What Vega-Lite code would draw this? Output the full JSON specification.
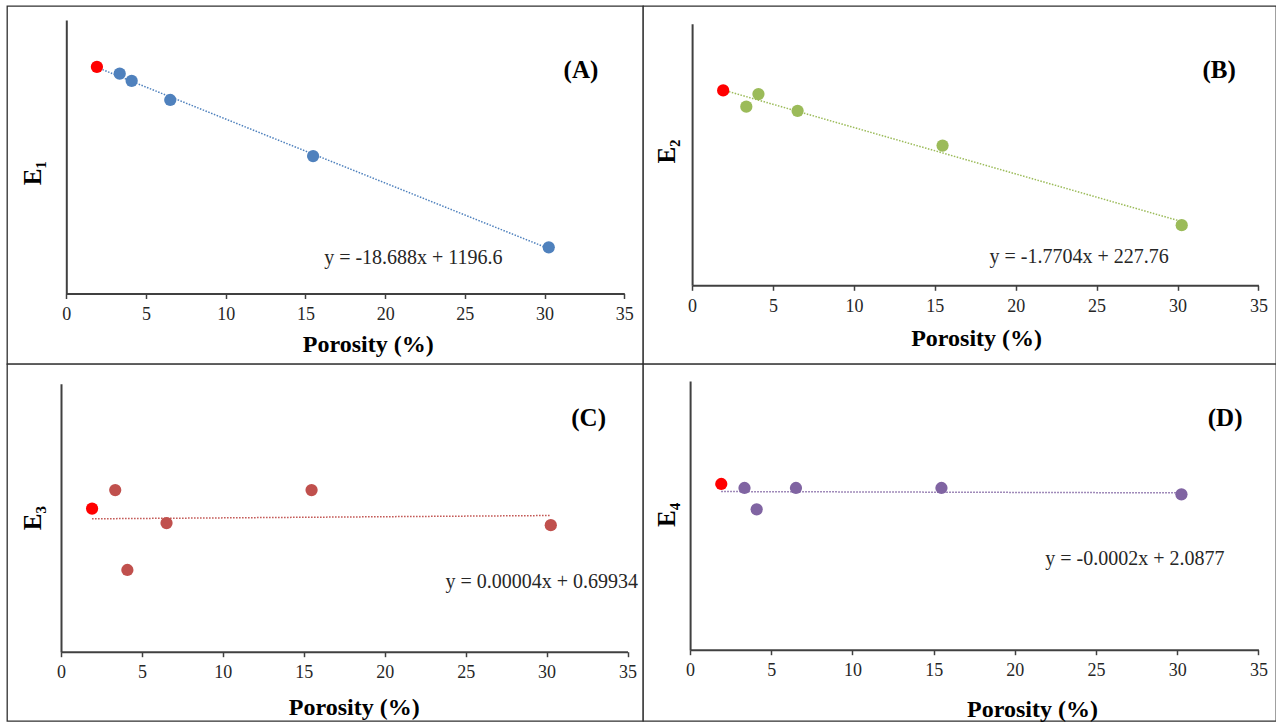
{
  "$schema": "https://vega.github.io/schema/vega-lite/v6.json",
  "background": "white",
  "padding": {"left": 6, "top": 5, "right": 0, "bottom": 1},
  "data": {"values": [
    {"porosity": 1.92, "type": "ref", "E1": 1163, "E2": 224.5, "E3": 0.7034, "E4": 2.1167},
    {"porosity": 3.35, "type": "sample", "E1": 1143, "E2": 218.3, "E3": 0.7103, "E4": 2.1018},
    {"porosity": 4.1, "type": "sample", "E1": 1122, "E2": 223.1, "E3": 0.6805, "E4": 2.0225},
    {"porosity": 6.52, "type": "sample", "E1": 1066, "E2": 216.7, "E3": 0.698, "E4": 2.1018},
    {"porosity": 15.48, "type": "sample", "E1": 902, "E2": 203.4, "E3": 0.7103, "E4": 2.1018},
    {"porosity": 30.26, "type": "sample", "E1": 635, "E2": 173, "E3": 0.6972, "E4": 2.0783}
  ]},
  "columns": 2,
  "spacing": 0,
  "bounds": "flush",
  "concat": [
    {
      "width": 636, "height": 358,
      "layer": [
        {
          "transform": [{"regression": "E1", "on": "porosity"}],
          "mark": {"type": "line", "color": "#4F81BD", "strokeWidth": 1.5, "strokeDash": [1.5, 1.5]},
          "encoding": {
            "x": {"field": "porosity", "type": "quantitative", "scale": {"domain": [0, 35], "range": [59.3, 617.3], "nice": false, "zero": false},
              "axis": {"title": "Porosity (%)", "values": [0, 5, 10, 15, 20, 25, 30, 35], "offset": -70.5, "titleX": 360.7, "titleY": 57.5}},
            "y": {"field": "E1", "type": "quantitative", "scale": {"domain": [500, 1300], "range": [287.5, 14], "nice": false, "zero": false},
              "axis": {"title": "E₁", "offset": -59.3, "titleX": -33.5, "titleY": 166.7}}
          }
        },
        {
          "mark": {"type": "circle", "size": 150, "opacity": 1},
          "encoding": {
            "x": {"field": "porosity", "type": "quantitative"},
            "y": {"field": "E1", "type": "quantitative"},
            "color": {"condition": {"test": "datum.type === 'ref'", "value": "#FF0000"}, "value": "#4F81BD"}
          }
        },
        {
          "data": {"values": [{"label": "y = -18.688x + 1196.6"}]},
          "mark": {"type": "text", "fontSize": 20, "align": "center", "baseline": "alphabetic", "color": "#262626", "font": "Liberation Serif"},
          "encoding": {"x": {"datum": 21.77}, "y": {"datum": 585}, "text": {"field": "label"}}
        },
        {
          "data": {"values": [{"label": "(A)"}]},
          "mark": {"type": "text", "fontSize": 25, "fontWeight": "bold", "align": "center", "baseline": "alphabetic", "color": "#000000", "font": "Liberation Serif"},
          "encoding": {"x": {"datum": 32.28}, "y": {"datum": 1130}, "text": {"field": "label"}}
        }
      ]
    },
    {
      "width": 633, "height": 358,
      "layer": [
        {
          "transform": [{"regression": "E2", "on": "porosity"}],
          "mark": {"type": "line", "color": "#9BBB59", "strokeWidth": 1.5, "strokeDash": [1.5, 1.5]},
          "encoding": {
            "x": {"field": "porosity", "type": "quantitative", "scale": {"domain": [0, 35], "range": [49.1, 615.4], "nice": false, "zero": false},
              "axis": {"title": "Porosity (%)", "values": [0, 5, 10, 15, 20, 25, 30, 35], "offset": -78.7, "titleX": 333.1, "titleY": 59.7}},
            "y": {"field": "E2", "type": "quantitative", "scale": {"domain": [150, 250], "range": [279.3, 17.7], "nice": false, "zero": false},
              "axis": {"title": "E₂", "offset": -49.1, "titleX": -25.9, "titleY": 145}}
          }
        },
        {
          "mark": {"type": "circle", "size": 150, "opacity": 1},
          "encoding": {
            "x": {"field": "porosity", "type": "quantitative"},
            "y": {"field": "E2", "type": "quantitative"},
            "color": {"condition": {"test": "datum.type === 'ref'", "value": "#FF0000"}, "value": "#9BBB59"}
          }
        },
        {
          "data": {"values": [{"label": "y = -1.7704x + 227.76"}]},
          "mark": {"type": "text", "fontSize": 20, "align": "center", "baseline": "alphabetic", "color": "#262626", "font": "Liberation Serif"},
          "encoding": {"x": {"datum": 23.92}, "y": {"datum": 158.6}, "text": {"field": "label"}}
        },
        {
          "data": {"values": [{"label": "(B)"}]},
          "mark": {"type": "text", "fontSize": 25, "fontWeight": "bold", "align": "center", "baseline": "alphabetic", "color": "#000000", "font": "Liberation Serif"},
          "encoding": {"x": {"datum": 32.57}, "y": {"datum": 229.1}, "text": {"field": "label"}}
        }
      ]
    },
    {
      "width": 636, "height": 357,
      "layer": [
        {
          "transform": [{"regression": "E3", "on": "porosity"}],
          "mark": {"type": "line", "color": "#C0504D", "strokeWidth": 1.5, "strokeDash": [1.5, 1.5]},
          "encoding": {
            "x": {"field": "porosity", "type": "quantitative", "scale": {"domain": [0, 35], "range": [54, 620.5], "nice": false, "zero": false},
              "axis": {"title": "Porosity (%)", "values": [0, 5, 10, 15, 20, 25, 30, 35], "offset": -69.3, "titleX": 346.7, "titleY": 62.6}},
            "y": {"field": "E3", "type": "quantitative", "scale": {"domain": [0.65, 0.75], "range": [287.7, 19.7], "nice": false, "zero": false},
              "axis": {"title": "E₃", "offset": -54, "titleX": -28.2, "titleY": 153.7}}
          }
        },
        {
          "mark": {"type": "circle", "size": 150, "opacity": 1},
          "encoding": {
            "x": {"field": "porosity", "type": "quantitative"},
            "y": {"field": "E3", "type": "quantitative"},
            "color": {"condition": {"test": "datum.type === 'ref'", "value": "#FF0000"}, "value": "#C0504D"}
          }
        },
        {
          "data": {"values": [{"label": "y = 0.00004x + 0.69934"}]},
          "mark": {"type": "text", "fontSize": 20, "align": "center", "baseline": "alphabetic", "color": "#262626", "font": "Liberation Serif"},
          "encoding": {"x": {"datum": 29.7}, "y": {"datum": 0.67388}, "text": {"field": "label"}}
        },
        {
          "data": {"values": [{"label": "(C)"}]},
          "mark": {"type": "text", "fontSize": 25, "fontWeight": "bold", "align": "center", "baseline": "alphabetic", "color": "#000000", "font": "Liberation Serif"},
          "encoding": {"x": {"datum": 32.6}, "y": {"datum": 0.73422}, "text": {"field": "label"}}
        }
      ]
    },
    {
      "width": 633, "height": 357,
      "layer": [
        {
          "transform": [{"regression": "E4", "on": "porosity"}],
          "mark": {"type": "line", "color": "#8064A2", "strokeWidth": 1.5, "strokeDash": [1.5, 1.5]},
          "encoding": {
            "x": {"field": "porosity", "type": "quantitative", "scale": {"domain": [0, 35], "range": [47.1, 615.4], "nice": false, "zero": false},
              "axis": {"title": "Porosity (%)", "values": [0, 5, 10, 15, 20, 25, 30, 35], "offset": -71.3, "titleX": 389, "titleY": 66.3}},
            "y": {"field": "E4", "type": "quantitative", "scale": {"domain": [1.5, 2.5], "range": [285.7, 17], "nice": false, "zero": false},
              "axis": {"title": "E₄", "offset": -47.1, "titleX": -23.9, "titleY": 150.3}}
          }
        },
        {
          "mark": {"type": "circle", "size": 150, "opacity": 1},
          "encoding": {
            "x": {"field": "porosity", "type": "quantitative"},
            "y": {"field": "E4", "type": "quantitative"},
            "color": {"condition": {"test": "datum.type === 'ref'", "value": "#FF0000"}, "value": "#8064A2"}
          }
        },
        {
          "data": {"values": [{"label": "y = -0.0002x + 2.0877"}]},
          "mark": {"type": "text", "fontSize": 20, "align": "center", "baseline": "alphabetic", "color": "#262626", "font": "Liberation Serif"},
          "encoding": {"x": {"datum": 27.39}, "y": {"datum": 1.8152}, "text": {"field": "label"}}
        },
        {
          "data": {"values": [{"label": "(D)"}]},
          "mark": {"type": "text", "fontSize": 25, "fontWeight": "bold", "align": "center", "baseline": "alphabetic", "color": "#000000", "font": "Liberation Serif"},
          "encoding": {"x": {"datum": 32.95}, "y": {"datum": 2.3325}, "text": {"field": "label"}}
        }
      ]
    }
  ],
  "config": {
    "view": {"stroke": "#303030", "strokeWidth": 1.3, "fill": "white"},
    "font": "Liberation Serif",
    "axis": {"grid": false, "domainColor": "#404040", "domainWidth": 2, "tickColor": "#404040", "tickWidth": 1.5, "tickSize": 5,
      "labelFont": "Liberation Serif", "labelFontSize": 18, "labelColor": "#262626", "labelPadding": 7, "labelFlush": false, "labelOverlap": false,
      "titleFont": "Liberation Serif", "titleFontWeight": "bold", "titleColor": "#000000"},
    "axisX": {"titleFontSize": 24, "titleAlign": "center", "titleBaseline": "alphabetic", "labelFont": "Liberation Serif", "labelFontSize": 18},
    "axisY": {"titleFontSize": 25, "titleAngle": 270, "titleAlign": "center", "titleBaseline": "middle", "labels": false, "ticks": false}
  }
}
